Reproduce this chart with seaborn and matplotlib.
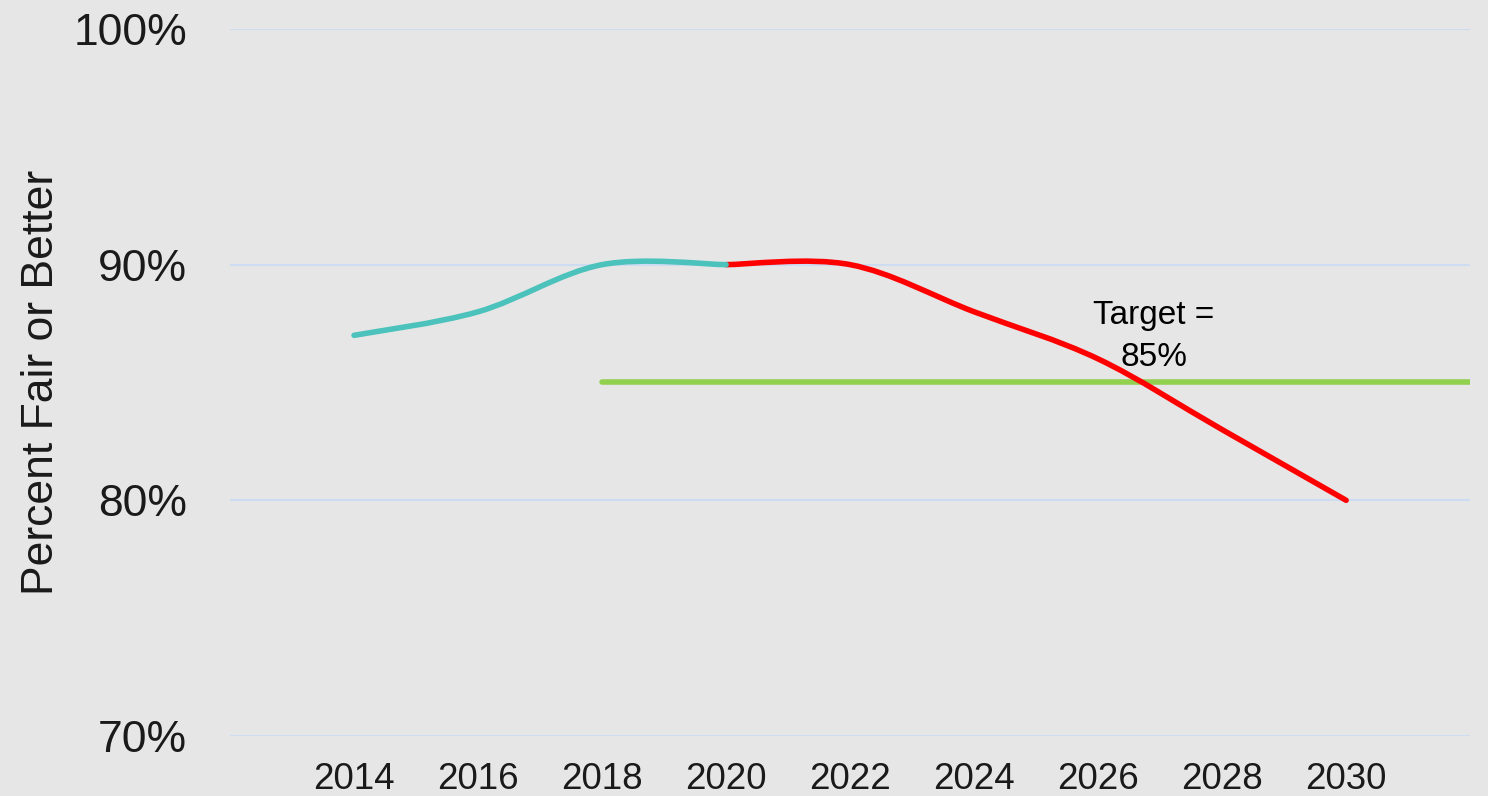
"""
plot.py - pavement condition trend vs target (smoothed lines)
"""

import numpy as np
import matplotlib.pyplot as plt
from matplotlib.path import Path
from matplotlib.patches import PathPatch
import seaborn as sns

# data
years_actual = [2014, 2016, 2018, 2020]
pct_actual = [87, 88, 90, 90]
years_proj = [2020, 2022, 2024, 2026, 2028, 2030]
pct_proj = [90, 90, 88, 86, 83, 80]
target_years = [2018, 2032]
target_pct = [85, 85]
xticks = list(range(2014, 2031, 2))
yticks = [70, 80, 90, 100]

TEAL = "#4BC2BC"
RED = "#FF0000"
GREEN = "#92D050"
BG = "#E6E6E6"
GRID = "#CEDCF2"


def smooth_path(xs, ys):
    # Catmull-Rom style bezier, like a spreadsheet "smoothed line"
    pts = np.column_stack([xs, ys]).astype(float)
    verts = [pts[0]]
    codes = [Path.MOVETO]
    n = len(pts)
    for i in range(n - 1):
        p0 = pts[max(i - 1, 0)]
        p1 = pts[i]
        p2 = pts[i + 1]
        p3 = pts[min(i + 2, n - 1)]
        verts += [p1 + (p2 - p0) / 6, p2 - (p3 - p1) / 6, p2]
        codes += [Path.CURVE4] * 3
    return Path(verts, codes)


sns.set_theme(style="white", rc={"axes.facecolor": BG, "figure.facecolor": BG})
plt.rcParams["font.family"] = ["Liberation Sans", "DejaVu Sans"]

fig, ax = plt.subplots(figsize=(14.88, 7.96), dpi=100)
fig.subplots_adjust(left=0.1546, right=0.988, bottom=0.0754, top=0.9636)

ax.set_xlim(2012, 2032)
ax.set_ylim(70, 100)

# target line
sns.lineplot(x=target_years, y=target_pct, ax=ax, color=GREEN, linewidth=4,
             solid_capstyle="round", zorder=3)

for xs, ys, col, z in [(years_actual, pct_actual, TEAL, 4),
                       (years_proj, pct_proj, RED, 3)]:
    patch = PathPatch(smooth_path(xs, ys), facecolor="none", edgecolor=col,
                      linewidth=4, capstyle="round", joinstyle="round",
                      zorder=z)
    ax.add_patch(patch)

ax.text(2026.9, 86.95, "Target =\n85%", ha="center", va="center",
        fontsize=24, color="black", linespacing=1.45)

ax.set_xticks(xticks)
ax.set_yticks(yticks)
ax.set_yticklabels([f"{v}%" for v in yticks])
ax.yaxis.grid(True, color=GRID, linewidth=1.5)
ax.xaxis.grid(False)
ax.set_axisbelow(True)
for s in ax.spines.values():
    s.set_visible(False)
ax.tick_params(axis="y", length=0, pad=31, labelsize=32, labelcolor="#1A1A1A")
ax.tick_params(axis="x", length=0, pad=19, labelsize=26.5, labelcolor="#1A1A1A")
ax.set_ylabel("Percent Fair or Better", fontsize=32, color="#1A1A1A",
              labelpad=8)

plt.savefig("out.png", dpi=100, facecolor=BG)
plt.close()
